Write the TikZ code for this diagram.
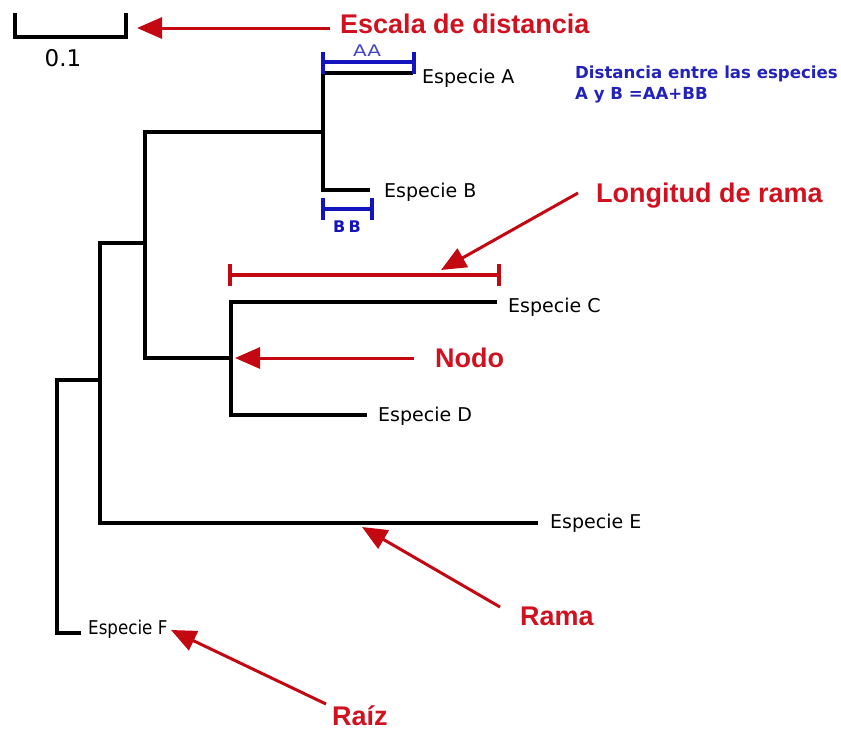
\documentclass[tikz,border=0pt]{standalone}
\usepackage{fontspec}
\usepackage{graphicx}
\setmainfont{DejaVu Sans}
\newfontfamily\callfont{Liberation Sans}
\usetikzlibrary{arrows.meta}

\definecolor{callred}{RGB}{208,18,32}
\definecolor{arrred}{RGB}{196,8,18}
\definecolor{measblue}{RGB}{20,20,190}
\definecolor{noteblue}{RGB}{35,35,185}
\definecolor{aablue}{RGB}{70,70,200}

\tikzset{
  branch/.style={line width=4pt, black, line join=miter},
  species/.style={anchor=base west, inner sep=0pt, font=\fontsize{19}{22}\selectfont},
  callout/.style={anchor=base west, inner sep=0pt, text=callred,
    font=\callfont\bfseries\fontsize{27}{30}\selectfont},
  pointer/.style={line width=3pt, arrred,
    -{Triangle[length=25pt, width=21pt]}, shorten >=0pt},
  bluebar/.style={line width=3.2pt, measblue},
  redbar/.style={line width=3.2pt, arrred},
}

\begin{document}
\begin{tikzpicture}[x=1pt, y=-1pt]
\useasboundingbox (0,0) rectangle (841,731);

% ---- tree joints and tips ----
\coordinate (abtop) at (323,73);
\coordinate (abbot) at (323,190);
\coordinate (abjoin) at (323,132);
\coordinate (tipA) at (413,73);
\coordinate (tipB) at (370,190);
\coordinate (ab2top) at (145,132);
\coordinate (ab2bot) at (145,358);
\coordinate (cdjoin) at (231,358);
\coordinate (cdtop) at (231,302);
\coordinate (cdbot) at (231,415);
\coordinate (tipC) at (497,302);
\coordinate (tipD) at (367,415);
\coordinate (etop) at (100,243);
\coordinate (ebot) at (100,523);
\coordinate (ejoin) at (145,243);
\coordinate (tipE) at (538,523);
\coordinate (roottop) at (57,380);
\coordinate (rootbot) at (57,633);
\coordinate (rootjoin) at (100,380);
\coordinate (tipF) at (81,633);

% ---- branches ----
\draw[branch] (tipA) -- (abtop) -- (abbot) -- (tipB);
\draw[branch] (abjoin) -- (ab2top) -- (ab2bot) -- (cdjoin);
\draw[branch] (tipC) -- (cdtop) -- (cdbot) -- (tipD);
\draw[branch] (ejoin) -- (etop) -- (ebot) -- (tipE);
\draw[branch] (rootjoin) -- (roottop) -- (rootbot) -- (tipF);

% ---- species labels ----
\node[species] (spA) at (422,83) {Especie A};
\node[species] (spB) at (384,197) {Especie B};
\node[species] (spC) at (508,312) {Especie C};
\node[species] (spD) at (378,421) {Especie D};
\node[species] (spE) at (550,528) {Especie E};
\node[species] (spF) at (88,634) {\scalebox{0.88}[1]{Especie F}};

% ---- distance scale ----
\coordinate (sc1) at (15,13);
\coordinate (sc2) at (15,37);
\coordinate (sc3) at (126,37);
\coordinate (sc4) at (126,13);
\draw[branch] (sc1) -- (sc2) -- (sc3) -- (sc4);
\node[anchor=base, inner sep=0pt, font=\fontsize{23}{26}\selectfont] (scl) at (63,66) {0.1};

% ---- AA and BB measures ----
\coordinate (aaL) at (323,62);
\coordinate (aaR) at (414,62);
\draw[bluebar] (aaL) -- (aaR);
\draw[bluebar] ([yshift=-12pt]aaL) -- ([yshift=10pt]aaL);
\draw[bluebar] ([yshift=-12pt]aaR) -- ([yshift=10pt]aaR);
\node[anchor=base, inner sep=0pt, text=aablue, font=\fontsize{16}{18}\selectfont] (aat) at (367,56) {\scalebox{1.25}[1]{AA}};

\coordinate (bbL) at (323,209);
\coordinate (bbR) at (372,209);
\draw[bluebar] (bbL) -- (bbR);
\draw[bluebar] ([yshift=-11pt]bbL) -- ([yshift=11pt]bbL);
\draw[bluebar] ([yshift=-11pt]bbR) -- ([yshift=11pt]bbR);
\node[anchor=base, inner sep=0pt, text=measblue, font=\bfseries\fontsize{16}{18}\selectfont] (bbt) at (347,232) {\addfontfeature{LetterSpace=22}BB};

% ---- note on the distance between A and B ----
\node[anchor=base west, inner sep=0pt, text=noteblue,
      font=\bfseries\fontsize{16.6}{21}\selectfont] (note1) at (575,78)
      {Distancia entre las especies};
\node[anchor=base west, inner sep=0pt, text=noteblue,
      font=\bfseries\fontsize{16.6}{21}\selectfont] (note2) at (575,99)
      {A y B =AA+BB};

% ---- branch length bar ----
\coordinate (lrL) at (230,275);
\coordinate (lrR) at (499,275);
\draw[redbar] (lrL) -- (lrR);
\draw[redbar] ([yshift=-11pt]lrL) -- ([yshift=11pt]lrL);
\draw[redbar] ([yshift=-11pt]lrR) -- ([yshift=11pt]lrR);

% ---- callouts ----
\node[callout] (escala) at (340,33) {Escala de distancia};
\node[callout] (longitud) at (596,202) {Longitud de rama};
\node[callout] (nodo) at (435,367) {Nodo};
\node[callout] (rama) at (520,625) {Rama};
\node[callout] (raiz) at (332,725) {Raíz};

\coordinate (escT) at (330,28);
\coordinate (escH) at (137,28);
\coordinate (lonT) at (578,193);
\coordinate (lonH) at (441,270);
\coordinate (nodT) at (414,358);
\coordinate (nodH) at (235,358);
\coordinate (ramT) at (500,607);
\coordinate (ramH) at (362,527);
\coordinate (raiT) at (326,704);
\coordinate (raiH) at (171,630);

\draw[pointer] (escT) -- (escH);
\draw[pointer] (lonT) -- (lonH);
\draw[pointer] (nodT) -- (nodH);
\draw[pointer] (ramT) -- (ramH);
\draw[pointer] (raiT) -- (raiH);
\end{tikzpicture}
\end{document}
